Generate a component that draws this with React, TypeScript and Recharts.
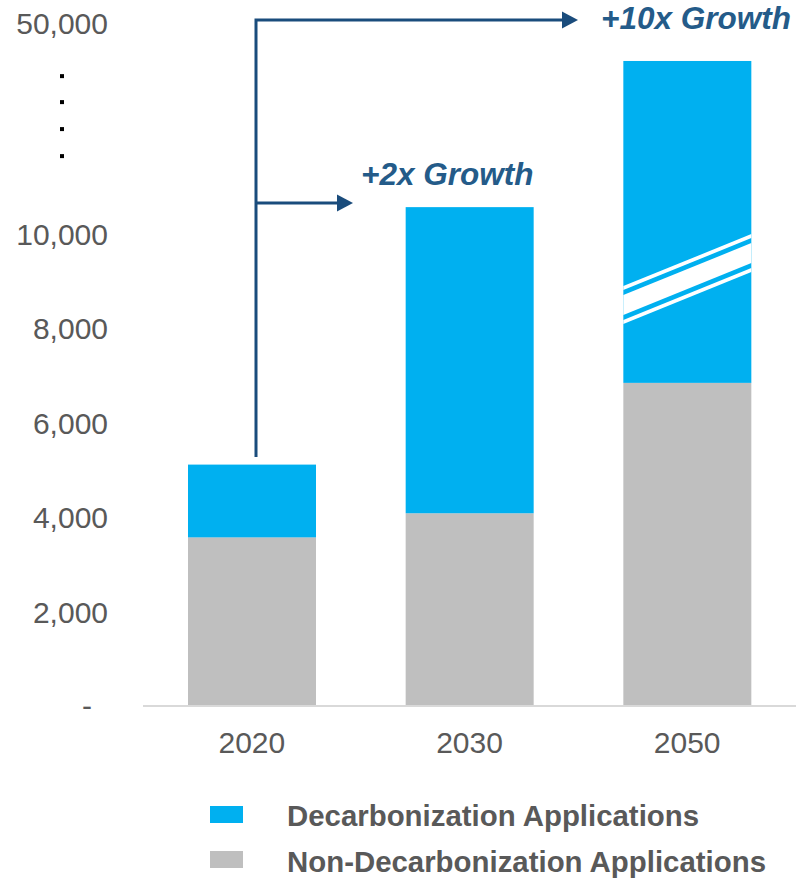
import React from 'react';
import { BarChart, Bar, XAxis, YAxis, Legend } from 'recharts';

// ---------- data ----------
const YEARS = ['2020', '2030', '2050'];
const NON_DECARB = [3570, 4080, 6840];
const DECARB = [1540, 6480, 34160];
const BROKEN_BAR = [false, false, true];
const SERIES_NAMES = ['Decarbonization Applications', 'Non-Decarbonization Applications'];
const Y_TICKS = [0, 2000, 4000, 6000, 8000, 10000];
const TOP_TICK_VALUE = 50000;
const GROWTH_LABELS = ['+2x Growth', '+10x Growth'];

// ---------- broken axis mapping ----------
const LINEAR_LIMIT = 11000; // axis is linear up to here
const TOP_TICK_POS = 14450; // display position of the 50,000 tick
const COMPRESS = (TOP_TICK_POS - LINEAR_LIMIT) / (TOP_TICK_VALUE - LINEAR_LIMIT);
const toDisplay = (v: number) => (v <= LINEAR_LIMIT ? v : LINEAR_LIMIT + (v - LINEAR_LIMIT) * COMPRESS);
const DOT_TICKS = [13333, 12783, 12212, 11640];
const BREAK_LEFT = 8487;
const BREAK_RIGHT = 9587;

const data = YEARS.map((year, i) => {
  const nonDisplay = toDisplay(NON_DECARB[i]);
  const totalDisplay = toDisplay(NON_DECARB[i] + DECARB[i]);
  return {
    year,
    nonDisplay,
    decarbDisplay: totalDisplay - nonDisplay,
    broken: BROKEN_BAR[i],
  };
});

const BLUE = '#00B0F0';
const GREY = '#BFBFBF';
const TEXT = '#595959';
const NAVY = '#1A4C7C';
const FONT = '"Liberation Sans", Arial, sans-serif';

const YTick = (props: any) => {
  const { x, y, payload } = props;
  const v = payload.value;
  if (DOT_TICKS.includes(v)) {
    return <rect x={x - 48} y={y - 2} width={4} height={4} fill="#000" />;
  }
  if (v === 0) {
    return (
      <text x={x - 16} y={y} dy={10} textAnchor="end" fill={TEXT} fontSize={30} fontFamily={FONT}>
        -
      </text>
    );
  }
  const label = v === TOP_TICK_POS ? TOP_TICK_VALUE : v;
  return (
    <text x={x} y={y} dy={11} textAnchor="end" fill={TEXT} fontSize={30} fontFamily={FONT}>
      {label.toLocaleString('en-US')}
    </text>
  );
};

const XTick = (props: any) => {
  const { x, y, payload } = props;
  return (
    <text x={x} y={y} dy={47} textAnchor="middle" fill={TEXT} fontSize={30} fontFamily={FONT}>
      {payload.value}
    </text>
  );
};

const DecarbShape = (props: any) => {
  const { x, y, width, height, fill, payload } = props;
  const parts: any[] = [<rect key="r" x={x} y={y} width={width} height={height} fill={fill} />];
  if (payload && payload.broken && height > 0) {
    const ppu = height / payload.decarbDisplay;
    const base = y + height;
    const yl = base - (BREAK_LEFT - payload.nonDisplay) * ppu;
    const yr = base - (BREAK_RIGHT - payload.nonDisplay) * ppu;
    const bands = [
      [-19, -15],
      [-10, 10],
      [15, 19],
    ];
    bands.forEach(([a, b], i) => {
      parts.push(
        <polygon
          key={'b' + i}
          points={`${x},${yl + a} ${x + width},${yr + a} ${x + width},${yr + b} ${x},${yl + b}`}
          fill="#fff"
        />
      );
    });
  }
  return <g>{parts}</g>;
};

const renderLegend = () => {
  const items = [
    { name: SERIES_NAMES[0], color: BLUE },
    { name: SERIES_NAMES[1], color: GREY },
  ];
  return (
    <svg width={797} height={89} style={{ display: 'block' }}>
      {items.map((it, i) => (
        <g key={it.name}>
          <rect x={210} y={16 + i * 45} width={33} height={17} fill={it.color} />
          <text
            x={287}
            y={35.5 + i * 46}
            fill={TEXT}
            fontSize={29.4}
            fontWeight="bold"
            fontFamily={FONT}
          >
            {it.name}
          </text>
        </g>
      ))}
    </svg>
  );
};

export default function App() {
  const yTicks = [...Y_TICKS, ...DOT_TICKS, TOP_TICK_POS].sort((a, b) => a - b);
  return (
    <div style={{ position: 'absolute', left: 0, top: 0, width: 797, height: 879, background: '#fff' }}>
      <BarChart
        width={797}
        height={879}
        data={data}
        margin={{ top: 21, right: 1, bottom: 0, left: 0 }}
        barSize={128}
      >
        <XAxis
          dataKey="year"
          axisLine={{ stroke: '#D9D9D9', strokeWidth: 2 }}
          tickLine={false}
          tickSize={0}
          tickMargin={0}
          height={173}
          interval={0}
          tick={<XTick />}
        />
        <YAxis
          type="number"
          domain={[0, 14500]}
          ticks={yTicks}
          interval={0}
          width={143}
          axisLine={false}
          tickLine={false}
          tickSize={0}
          tickMargin={35}
          tick={<YTick />}
        />
        <Legend
          layout="horizontal"
          verticalAlign="middle"
          align="center"
          wrapperStyle={{ left: 0, top: 790, width: 797, height: 89 }}
          content={renderLegend}
        />
        <Bar
          dataKey="nonDisplay"
          name={SERIES_NAMES[1]}
          stackId="a"
          fill={GREY}
          isAnimationActive={false}
        />
        <Bar
          dataKey="decarbDisplay"
          name={SERIES_NAMES[0]}
          stackId="a"
          fill={BLUE}
          isAnimationActive={false}
          shape={<DecarbShape />}
        />
      </BarChart>
      <svg
        width={797}
        height={879}
        style={{ position: 'absolute', left: 0, top: 0, pointerEvents: 'none' }}
      >
        <polyline
          points="256,457 256,20 565,20"
          fill="none"
          stroke={NAVY}
          strokeWidth={3}
          strokeLinejoin="miter"
        />
        <polygon points="578,20 562,11.5 562,28.5" fill={NAVY} />
        <line x1={256} y1={203} x2={340} y2={203} stroke={NAVY} strokeWidth={3} />
        <polygon points="353,203 337,194.5 337,211.5" fill={NAVY} />
        <text
          x={361}
          y={185}
          fill="#245B89"
          fontSize={31.5}
          fontWeight="bold"
          fontStyle="italic"
          fontFamily={FONT}
        >
          {GROWTH_LABELS[0]}
        </text>
        <text
          x={601}
          y={29}
          fill="#245B89"
          fontSize={31.5}
          fontWeight="bold"
          fontStyle="italic"
          fontFamily={FONT}
        >
          {GROWTH_LABELS[1]}
        </text>
      </svg>
    </div>
  );
}
